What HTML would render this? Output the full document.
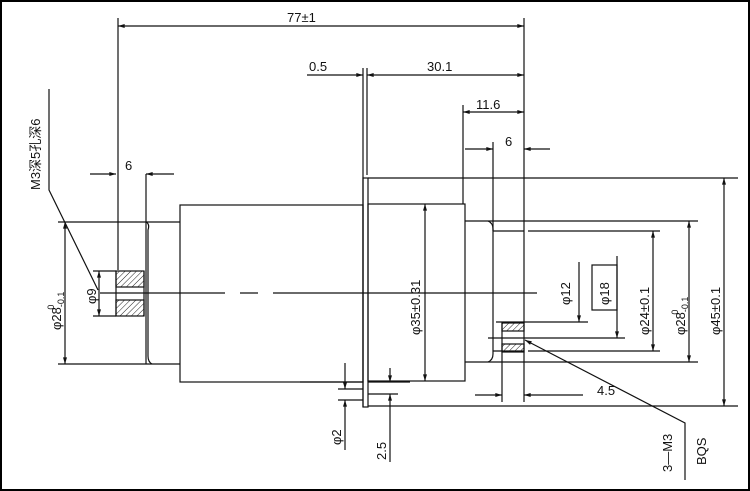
<!DOCTYPE html>
<html><head><meta charset="utf-8"><style>
html,body{margin:0;padding:0;background:#fff}
svg{display:block}
text{font-family:"Liberation Sans","Noto Sans CJK SC",sans-serif;fill:#111}
</style></head><body>
<svg width="750" height="491" viewBox="0 0 750 491" xmlns="http://www.w3.org/2000/svg">
<defs>
<marker id="a" viewBox="0 0 10 6" refX="10" refY="3" markerWidth="8" markerHeight="4" orient="auto-start-reverse" markerUnits="userSpaceOnUse"><path d="M0,0L10,3L0,6z" fill="#111"/></marker>
<pattern id="h" width="4" height="4" patternUnits="userSpaceOnUse" patternTransform="rotate(45)"><line x1="0" y1="0" x2="0" y2="4" stroke="#222" stroke-width="1"/></pattern>
</defs>
<rect x="1" y="1" width="748" height="489" fill="none" stroke="#000" stroke-width="2"/>
<g stroke="#111" stroke-width="1.2" fill="none">
<!-- top dims -->
<line x1="118" y1="26" x2="524" y2="26" marker-start="url(#a)" marker-end="url(#a)"/>
<line x1="118" y1="18" x2="118" y2="270"/>
<line x1="524" y1="18" x2="524" y2="231"/>
<line x1="307" y1="75" x2="363" y2="75" marker-end="url(#a)"/>
<line x1="367" y1="75" x2="524" y2="75" marker-start="url(#a)" marker-end="url(#a)"/>
<line x1="363" y1="68" x2="363" y2="407"/><line x1="367" y1="68" x2="367" y2="175"/>
<line x1="463" y1="112" x2="524" y2="112" marker-start="url(#a)" marker-end="url(#a)"/>
<line x1="463" y1="105" x2="463" y2="204"/>
<line x1="465" y1="149" x2="493" y2="149" marker-end="url(#a)"/>
<line x1="524" y1="149" x2="550" y2="149" marker-start="url(#a)"/>
<line x1="493" y1="142" x2="493" y2="231"/>
<!-- flange -->
<rect x="363" y="178" width="5" height="229"/>
<line x1="368" y1="178" x2="738" y2="178"/>
<line x1="368" y1="406" x2="738" y2="406"/>
<!-- motor body -->
<rect x="180" y="205" width="183" height="177"/>
<line x1="58" y1="222" x2="180" y2="222"/>
<line x1="58" y1="364" x2="180" y2="364"/>
<path d="M146,222 q4,2 2,8 L148,356 q0,6 4,8"/>
<!-- left hole -->
<rect x="116" y="271" width="28" height="16" fill="url(#h)"/>
<rect x="116" y="300" width="28" height="16" fill="url(#h)"/>
<line x1="116" y1="271" x2="116" y2="316"/><line x1="144" y1="271" x2="144" y2="316"/>
<line x1="146" y1="174" x2="146" y2="364"/>
<line x1="93" y1="271" x2="116" y2="271"/><line x1="93" y1="316" x2="116" y2="316"/>
<line x1="90" y1="174" x2="116" y2="174" marker-end="url(#a)"/>
<line x1="146" y1="174" x2="174" y2="174" marker-start="url(#a)"/>
<line x1="99" y1="271" x2="99" y2="316" marker-start="url(#a)" marker-end="url(#a)"/>
<line x1="65" y1="222" x2="65" y2="364" marker-start="url(#a)" marker-end="url(#a)"/>
<!-- center line -->
<line x1="100" y1="293" x2="225" y2="293"/>
<line x1="240" y1="293" x2="258" y2="293"/>
<line x1="273" y1="293" x2="537" y2="293"/>
<!-- leader left -->
<polyline points="49,89 49,190 98,290"/>
<!-- right body -->
<rect x="368" y="204" width="97" height="177"/>
<line x1="425" y1="204" x2="425" y2="381" marker-start="url(#a)" marker-end="url(#a)"/>
<line x1="465" y1="221" x2="698" y2="221"/>
<line x1="465" y1="362" x2="698" y2="362"/>
<path d="M488,221 q5,2 5,8 L493,354 q0,6 -5,8"/>
<line x1="493" y1="231" x2="524" y2="231"/>
<line x1="528" y1="231" x2="660" y2="231"/>
<line x1="493" y1="351" x2="524" y2="351"/>
<line x1="528" y1="351" x2="660" y2="351"/>
<rect x="502" y="323" width="22" height="8" fill="url(#h)"/>
<rect x="502" y="344" width="22" height="8" fill="url(#h)"/>
<line x1="502" y1="323" x2="502" y2="402"/>
<line x1="524" y1="231" x2="524" y2="402"/>
<line x1="496" y1="322" x2="588" y2="322"/>
<line x1="488" y1="338" x2="625" y2="338"/>
<line x1="579" y1="262" x2="579" y2="322" marker-end="url(#a)"/>
<line x1="617" y1="256" x2="617" y2="338" marker-end="url(#a)"/>
<rect x="592" y="265" width="25" height="45"/>
<line x1="653" y1="231" x2="653" y2="351" marker-start="url(#a)" marker-end="url(#a)"/>
<line x1="689" y1="221" x2="689" y2="362" marker-start="url(#a)" marker-end="url(#a)"/>
<line x1="724" y1="178" x2="724" y2="406" marker-start="url(#a)" marker-end="url(#a)"/>
<line x1="475" y1="395" x2="502" y2="395" marker-end="url(#a)"/>
<line x1="524" y1="395" x2="583" y2="395" marker-start="url(#a)"/>
<!-- bottom small dims -->
<line x1="300" y1="382" x2="363" y2="382"/>
<line x1="338" y1="389" x2="363" y2="389"/>
<line x1="338" y1="400" x2="363" y2="400"/>
<line x1="368" y1="394" x2="398" y2="394"/>
<line x1="368" y1="382" x2="410" y2="382"/>
<line x1="345" y1="363" x2="345" y2="389" marker-end="url(#a)"/>
<line x1="345" y1="400" x2="345" y2="450" marker-start="url(#a)"/>
<line x1="390" y1="368" x2="390" y2="382" marker-end="url(#a)"/>
<line x1="390" y1="394" x2="390" y2="462" marker-start="url(#a)"/>
<!-- leader right -->
<polyline points="525,340 685,423 685,480" marker-start="url(#a)"/>
</g>
<g font-size="13">
<text x="287" y="22">77±1</text>
<text x="309" y="71">0.5</text>
<text x="427" y="71">30.1</text>
<text x="476" y="109">11.6</text>
<text x="505" y="146">6</text>
<text x="125" y="170">6</text>
<text x="597" y="395">4.5</text>
</g>
<g font-size="13">
<text transform="translate(40,190) rotate(-90)">M3深5孔深6</text>
<text transform="translate(96,304) rotate(-90)">φ9</text>
<text transform="translate(61,330) rotate(-90)">φ28<tspan font-size="9" dy="3">-0.1</tspan><tspan font-size="9" dx="-18" dy="-10">0</tspan></text>
<text transform="translate(420,335) rotate(-90)">φ35±0.31</text>
<text transform="translate(570,305) rotate(-90)">φ12</text>
<text transform="translate(609,305) rotate(-90)">φ18</text>
<text transform="translate(649,335) rotate(-90)">φ24±0.1</text>
<text transform="translate(685,335) rotate(-90)">φ28<tspan font-size="9" dy="3">-0.1</tspan><tspan font-size="9" dx="-18" dy="-10">0</tspan></text>
<text transform="translate(720,335) rotate(-90)">φ45±0.1</text>
<text transform="translate(341,445) rotate(-90)">φ2</text>
<text transform="translate(386,460) rotate(-90)">2.5</text>
<text transform="translate(672,472) rotate(-90)">3—M3</text>
<text transform="translate(706,465) rotate(-90)">BQS</text>
</g>
</svg>
</body></html>
